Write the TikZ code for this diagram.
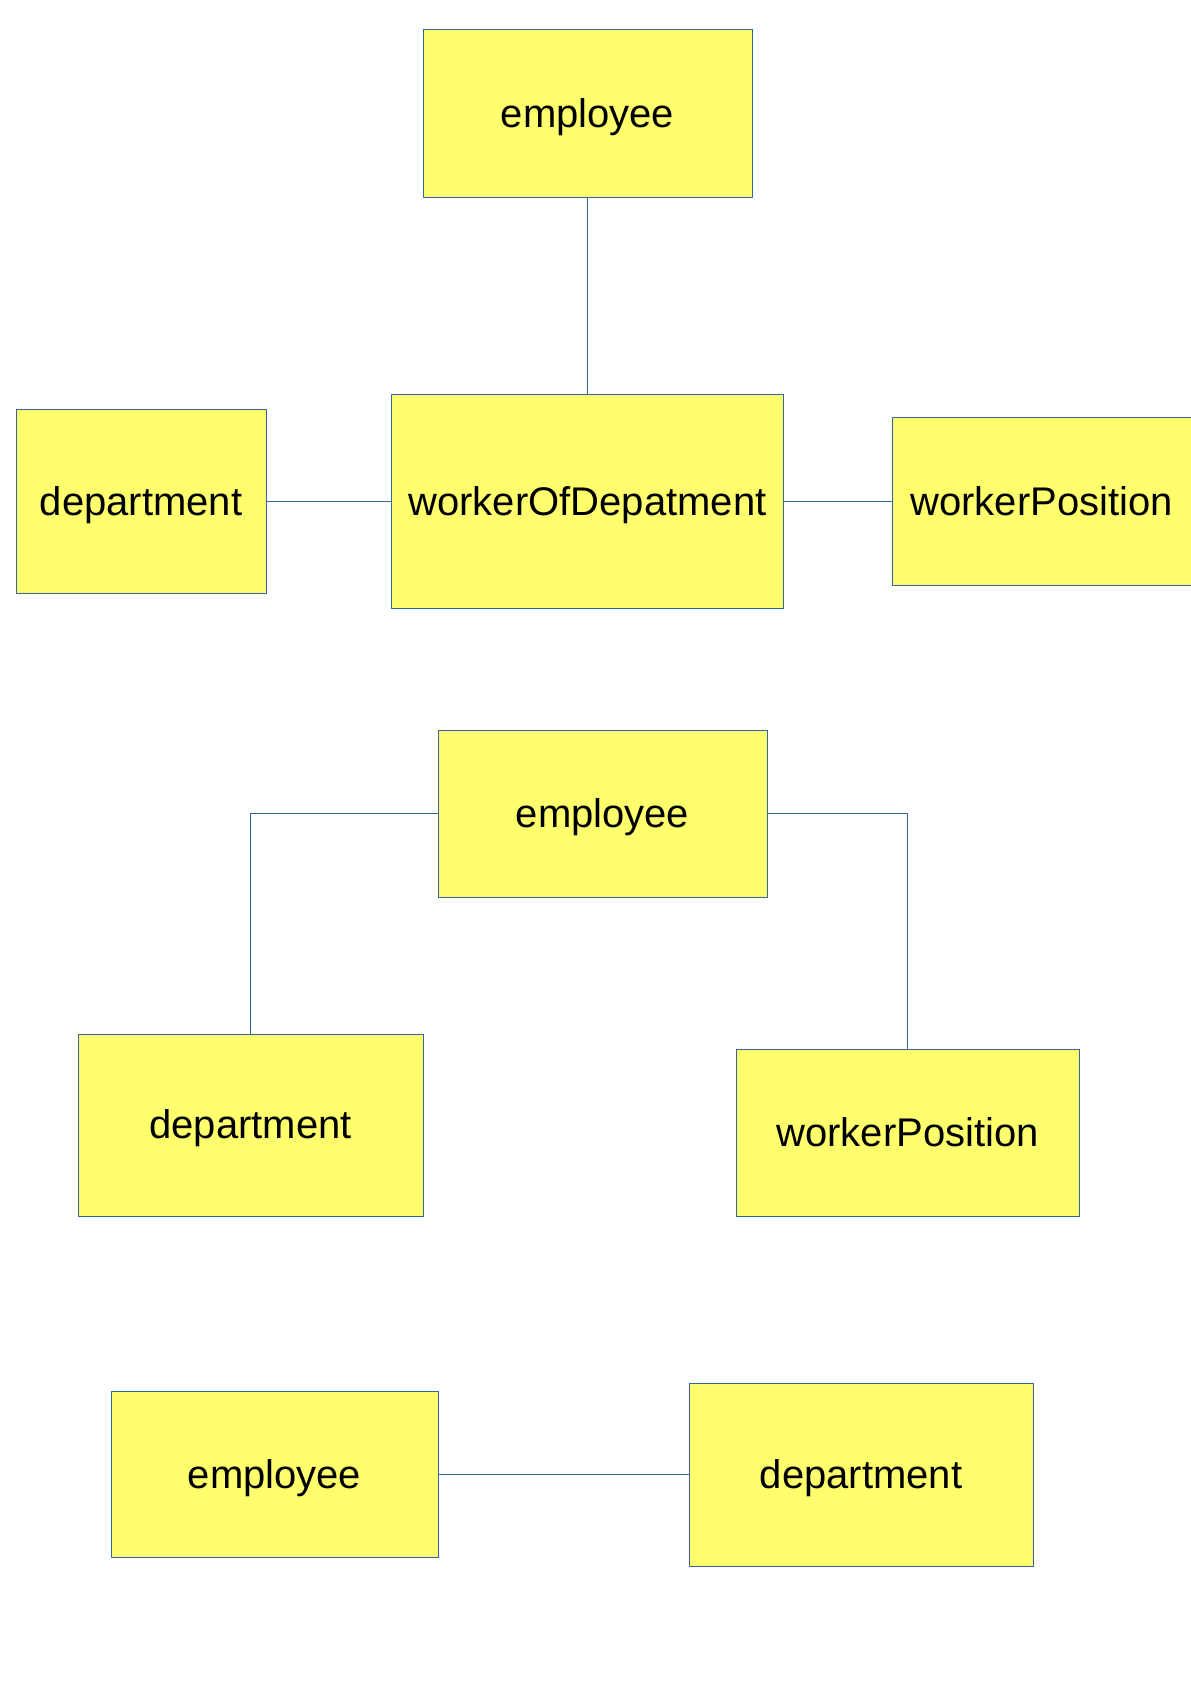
\documentclass[tikz,border=0pt]{standalone}
\usepackage{fontspec}
\setmainfont{Liberation Sans}
\definecolor{boxfill}{HTML}{FFFF6D}
\definecolor{boxline}{HTML}{3465A4}
\begin{document}
\begin{tikzpicture}[x=0.5pt,y=-0.5pt,
  entity/.style={draw=boxline,fill=boxfill,line width=0.5pt,rectangle,inner sep=0pt,
    text height=18.1pt,text depth=4.2pt,font=\fontsize{20}{24}\selectfont},
  link/.style={draw=boxline,line width=0.5pt}]
\useasboundingbox (0,0) rectangle (1190,1684);
% top group
\node[entity,minimum width=164.5pt,minimum height=84pt] (e1) at (587.5,114) {employee};
\node[entity,minimum width=125pt,minimum height=91.5pt] (d1) at (141,501.5) {department};
\node[entity,minimum width=196pt,minimum height=106.5pt] (w1) at (587.5,501.5) {workerOfDepatment};
\node[entity,minimum width=149.5pt,minimum height=83.5pt] (p1) at (1041.5,501.5) {workerPosition};
\draw[link] (e1.south) -- (w1.north);
\draw[link] (d1.east) -- (w1.west);
\draw[link] (w1.east) -- (p1.west);
% middle group
\node[entity,minimum width=164.5pt,minimum height=83.5pt] (e2) at (602.5,813.5) {employee};
\node[entity,minimum width=172.5pt,minimum height=91pt] (d2) at (250.5,1125) {department};
\node[entity,minimum width=171.5pt,minimum height=83.5pt] (p2) at (907.5,1132.5) {workerPosition};
\draw[link] (e2.west) -| (d2.north);
\draw[link] (e2.east) -| (p2.north);
% bottom group
\node[entity,minimum width=163.5pt,minimum height=83pt] (e3) at (274.5,1474.5) {employee};
\node[entity,minimum width=172pt,minimum height=91.5pt] (d3) at (861,1474.5) {department};
\draw[link] (e3.east) -- (d3.west);
\end{tikzpicture}
\end{document}
